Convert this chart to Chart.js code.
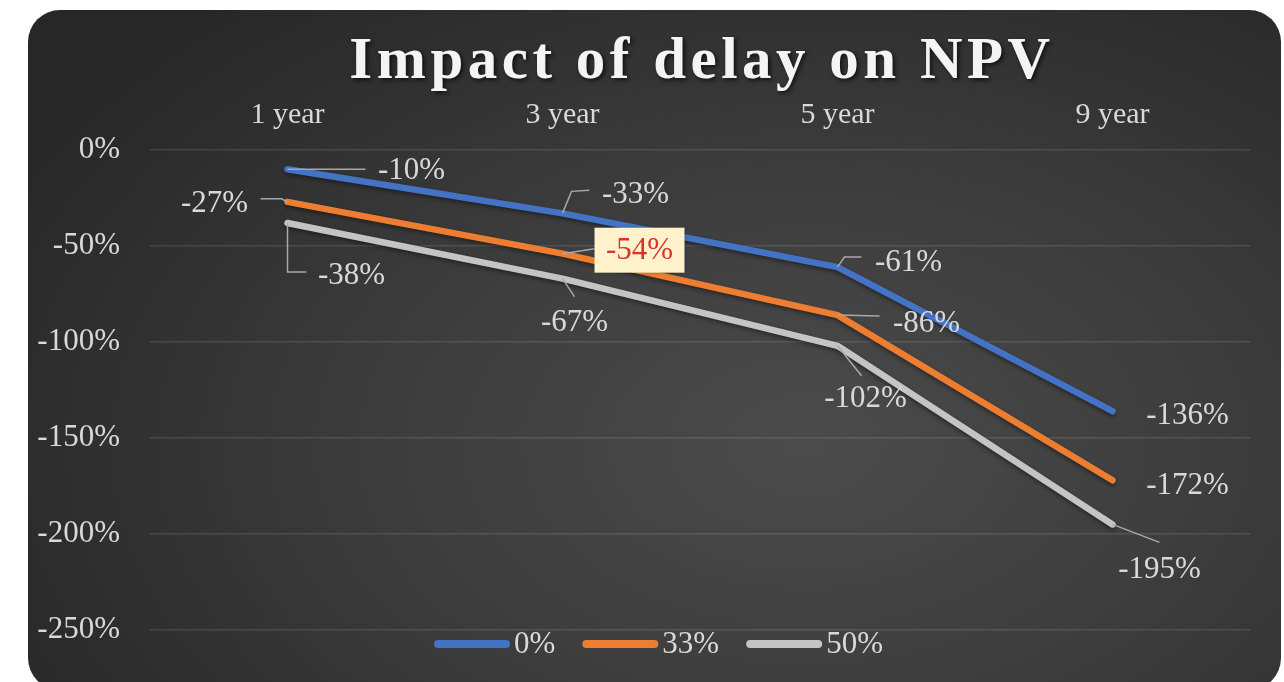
<!DOCTYPE html>
<html lang="en">
<head>
  <meta charset="UTF-8">
  <title>Impact of delay on NPV</title>
  <script src="https://cdn.jsdelivr.net/npm/chart.js"></script>
  <style>
    html, body {
      margin: 0;
      padding: 0;
      background: #fff;
      overflow: hidden;
    }
    .chart-box {
      position: absolute;
      left: 28px;
      top: 10px;
      width: 1253px;
      height: 680px;
      border-radius: 32px;
      overflow: hidden;
      background: radial-gradient(ellipse 72% 85% at 62% 64%, #4b4b4b 0%, #3d3d3d 45%, #272727 100%);
    }
    .chart-box canvas {
      position: absolute;
      left: 0;
      top: 0;
    }
  </style>
</head>
<body>
<div class="chart-box">
  <canvas id="npvChart" width="1253" height="680"></canvas>
</div>

<script>
  // data
  const chartTitle = 'Impact of delay on NPV';
  const categories = ['1 year', '3 year', '5 year', '9 year'];
  const seriesNames = ['0%', '33%', '50%'];
  const npvDelay0 = [-10, -33, -61, -136];
  const npvDelay33 = [-27, -54, -86, -172];
  const npvDelay50 = [-38, -67, -102, -195];
  const yMin = -250, yMax = 0, yStep = 50;

  const colors = ['#4472c4', '#ed7d31', '#c4c4c4'];
  const serif = "'Liberation Serif', 'DejaVu Serif', serif";
  const labelColor = '#d9d9d9';

  // label placement: text offset from the point + leader line (relative to the point)
  const labelPlacement = [
    [
      { dx: 124, dy: 1, leader: [[0, 0], [78, 0]] },
      { dx: 73, dy: -20, leader: [[0, 0], [9, -22], [27, -23]] },
      { dx: 71, dy: -5, leader: [[0, 0], [7, -10], [24, -10]] },
      { dx: 75, dy: 4 }
    ],
    [
      { dx: -73, dy: 1, leader: [[0, 0], [-6, -3], [-27, -3]] },
      { dx: 77, dy: -4, leader: [[0, 0], [32, -5]], highlight: true },
      { dx: 89, dy: 8, leader: [[0, 0], [42, 1]] },
      { dx: 75, dy: 5 }
    ],
    [
      { dx: 64, dy: 52, leader: [[0, 0], [0, 49], [19, 49]] },
      { dx: 12, dy: 43, leader: [[0, 0], [12, 18]] },
      { dx: 28, dy: 52, leader: [[0, 0], [24, 30]] },
      { dx: 47, dy: 44, leader: [[0, 0], [47, 18]] }
    ]
  ];

  const pct = v => v + '%';

  const lineShadow = {
    id: 'lineShadow',
    beforeDatasetsDraw(chart) {
      const ctx = chart.ctx;
      ctx.save();
      ctx.shadowColor = 'rgba(0,0,0,0.45)';
      ctx.shadowBlur = 4;
      ctx.shadowOffsetY = 2;
    },
    afterDatasetsDraw(chart) {
      chart.ctx.restore();
    }
  };

  const decorations = {
    id: 'decorations',
    afterDraw(chart) {
      const ctx = chart.ctx;
      const area = chart.chartArea;

      // title
      ctx.save();
      ctx.font = 'bold 59px ' + serif;
      ctx.letterSpacing = '4.5px';
      ctx.fillStyle = '#f4f4f4';
      ctx.textAlign = 'center';
      ctx.textBaseline = 'alphabetic';
      ctx.shadowColor = 'rgba(0,0,0,0.7)';
      ctx.shadowBlur = 4;
      ctx.shadowOffsetX = 2;
      ctx.shadowOffsetY = 2;
      ctx.fillText(chartTitle, (area.left + area.right) / 2 + 2, 68);
      ctx.restore();

      // data labels with leader lines
      chart.data.datasets.forEach((ds, i) => {
        const meta = chart.getDatasetMeta(i);
        meta.data.forEach((pt, j) => {
          const place = labelPlacement[i][j];
          const text = pct(ds.data[j]);
          if (place.leader) {
            ctx.save();
            ctx.strokeStyle = '#a8a8a8';
            ctx.lineWidth = 1.5;
            ctx.beginPath();
            place.leader.forEach(([lx, ly], k) => {
              if (k === 0) ctx.moveTo(pt.x + lx, pt.y + ly);
              else ctx.lineTo(pt.x + lx, pt.y + ly);
            });
            ctx.stroke();
            ctx.restore();
          }
          const tx = pt.x + place.dx, ty = pt.y + place.dy;
          ctx.save();
          ctx.font = '31px ' + serif;
          ctx.textAlign = 'center';
          ctx.textBaseline = 'middle';
          if (place.highlight) {
            ctx.fillStyle = '#fff2cc';
            ctx.shadowColor = 'rgba(0,0,0,0.35)';
            ctx.shadowBlur = 3;
            ctx.fillRect(tx - 45, ty - 22, 90, 45);
            ctx.shadowColor = 'transparent';
            ctx.fillStyle = '#d7352b';
          } else {
            ctx.fillStyle = labelColor;
          }
          ctx.fillText(text, tx, ty + 1);
          ctx.restore();
        });
      });

      // legend
      ctx.save();
      ctx.font = '31px ' + serif;
      ctx.textBaseline = 'middle';
      const lineLen = 76, gapText = 4, gapItem = 27;
      const items = chart.data.datasets.map(ds => ({
        label: ds.label, color: ds.borderColor, w: lineLen + gapText + ctx.measureText(ds.label).width
      }));
      const total = items.reduce((s, it) => s + it.w, 0) + gapItem * (items.length - 1);
      let x = chart.width / 2 - total / 2 + 4;
      const ly = 634;
      items.forEach(it => {
        ctx.strokeStyle = it.color;
        ctx.lineWidth = 8;
        ctx.lineCap = 'round';
        ctx.beginPath();
        ctx.moveTo(x + 4, ly);
        ctx.lineTo(x + lineLen - 4, ly);
        ctx.stroke();
        ctx.fillStyle = labelColor;
        ctx.fillText(it.label, x + lineLen + gapText, ly + 1);
        x += it.w + gapItem;
      });
      ctx.restore();
    }
  };

  new Chart(document.getElementById('npvChart'), {
    type: 'line',
    data: {
      labels: categories,
      datasets: [
        { label: seriesNames[0], data: npvDelay0, borderColor: colors[0], backgroundColor: colors[0] },
        { label: seriesNames[1], data: npvDelay33, borderColor: colors[1], backgroundColor: colors[1] },
        { label: seriesNames[2], data: npvDelay50, borderColor: colors[2], backgroundColor: colors[2] }
      ]
    },
    options: {
      responsive: false,
      animation: false,
      layout: { padding: { top: 0, right: 31, bottom: 60, left: 0 } },
      elements: {
        line: { borderWidth: 6.5, borderCapStyle: 'round', borderJoinStyle: 'round', tension: 0 },
        point: { radius: 0, hoverRadius: 0 }
      },
      plugins: {
        legend: { display: false },
        title: { display: false },
        tooltip: { enabled: false }
      },
      scales: {
        x: {
          position: 'top',
          offset: true,
          afterFit: s => { s.height = 140; },
          grid: { display: false },
          border: { display: false },
          ticks: {
            padding: 9,
            color: labelColor,
            font: { family: serif, size: 30 }
          }
        },
        y: {
          min: yMin,
          max: yMax,
          afterFit: s => { s.width = 122; },
          grid: { color: 'rgba(255,255,255,0.11)', lineWidth: 1.5, drawTicks: false },
          border: { display: false },
          ticks: {
            stepSize: yStep,
            padding: 30,
            color: labelColor,
            font: { family: serif, size: 31 },
            callback: v => pct(v)
          }
        }
      }
    },
    plugins: [lineShadow, decorations]
  });
</script>
</body>
</html>
